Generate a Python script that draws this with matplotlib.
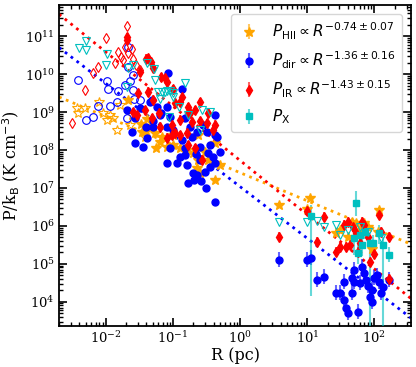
import numpy as np
import matplotlib
matplotlib.use("Agg")
import matplotlib.pyplot as plt
from matplotlib.ticker import LogLocator, NullFormatter

plt.rcParams['font.family'] = ['DejaVu Serif']

# --- data (log10 R [pc], log10 P/kB [K cm^-3]) ---

# HII pressure (orange stars)
hii_open_logR = [-2.10, -2.43, -2.31, -2.42, -2.04, -1.94, -1.84, -1.90, -1.79, -1.42, -1.64, -1.99, -1.61]
hii_open_logP = [9.26, 9.11, 9.11, 8.97, 8.97, 8.92, 8.53, 8.84, 9.18, 8.34, 8.66, 8.79, 8.92]
hii_logR = [-1.42, -1.34, -1.27, -1.19, -1.09, -1.00, -0.90, -0.80, -0.70, -0.63, -0.48, -0.37,
            -0.30, -0.64, -0.37, -1.25, -1.00, -0.52, -1.48, -1.16, -1.46, -0.63, -0.37, -0.60,
            -1.39, -1.67,
            0.58, 1.00, 1.04, 1.42, 1.48, 1.67, 1.73, 1.84, 1.96, 2.06, 2.05, 1.91, 1.60, 1.78]
hii_logP = [8.47, 8.62, 8.45, 8.21, 8.08, 8.13, 8.05, 8.00, 7.92, 7.74, 7.74, 7.66,
            7.61, 7.53, 7.21, 8.05, 8.40, 7.95, 8.68, 8.34, 8.47, 8.40, 8.18, 7.39,
            8.82, 9.32,
            6.55, 6.45, 6.74, 5.82, 5.89, 6.11, 6.08, 6.08, 5.39, 6.42, 5.84, 5.97, 5.71, 5.89]
hii_err = 0.08

# direct pressure (blue circles)
dir_open_logR = [-1.67, -2.42, -1.99, -1.97, -1.82, -1.72, -1.64, -1.60, -1.58, -1.49, -2.12,
                 -1.94, -1.84, -2.20, -2.30, -1.69, -1.67, -1.60]
dir_open_logP = [10.71, 9.84, 9.82, 9.60, 9.55, 9.71, 9.82, 9.58, 9.34, 9.32, 9.16,
                 9.16, 9.27, 8.87, 8.79, 8.84, 10.18, 9.97]
dir_logR = [-1.07, -0.87, -1.69, -1.49, -1.31, -1.24, -1.61, -1.57, -1.39, -1.09, -0.79, -0.70,
            -0.60, -0.72, -1.04, -1.30, -0.49, -0.40, -0.78, -0.58, -0.51, -0.37, -1.34, -1.57,
            -1.09, -1.04, -1.30, -1.00, -0.75, -0.64, -0.37, -0.55, -1.18, -0.82, -1.19, -0.87,
            -0.90, -0.82, -0.60, -0.48, -0.34, -0.45, -0.37, -0.94, -0.52, -0.64, -0.69, -1.45,
            -0.37, -1.40, -1.09, -0.45, -0.30, -0.82, -0.66,
            0.58, 1.00, 1.06, 1.15, 1.25, 1.42, 1.48, 1.54, 1.58, 1.60, 1.66, 1.69, 1.70, 1.75,
            1.79, 1.82, 1.84, 1.88, 1.91, 1.94, 1.96, 1.99, 2.07, 2.09, 2.12, 2.22, 1.55, 1.66,
            1.96, 2.03]
dir_logP = [10.03, 9.60, 9.05, 9.10, 9.32, 9.13, 8.47, 8.18, 8.32, 7.66, 7.61, 7.39,
            8.08, 8.34, 8.05, 8.76, 8.47, 7.82, 7.13, 7.18, 7.00, 6.63, 9.26, 8.84,
            9.13, 8.87, 8.61, 8.53, 8.61, 8.47, 8.39, 8.66, 8.97, 8.84, 8.92, 8.26,
            7.82, 7.87, 7.74, 7.92, 8.34, 8.13, 7.66, 7.66, 7.42, 7.34, 7.20, 8.08,
            8.92, 8.61, 8.61, 7.55, 7.95, 8.05, 7.90,
            5.11, 5.11, 5.16, 4.58, 4.66, 4.24, 4.24, 4.53, 3.84, 3.71, 4.24, 4.84, 4.53, 3.74,
            4.50, 4.92, 4.76, 4.58, 4.42, 4.13, 4.00, 4.63, 4.53, 4.24, 4.39, 4.58, 4.05, 4.63,
            4.32, 4.70]
dir_err = [0.08] * 55 + [0.2] * 30

# IR pressure (red thin diamonds)
ir_open_logR = [-1.69, -2.00, -1.82, -1.72, -1.67, -1.61, -1.75, -1.60, -2.12, -2.19, -2.31,
                -2.50, -1.49, -1.87, -1.55, -1.78]
ir_open_logP = [11.26, 10.95, 10.58, 10.71, 10.55, 10.66, 10.37, 10.39, 10.18, 10.03, 9.58,
                8.71, 10.10, 10.29, 10.25, 10.45]
ir_logR = [-1.69, -1.69, -1.37, -1.33, -1.30, -1.12, -1.09, -1.52, -1.30, -0.97, -0.87, -0.78,
           -0.75, -0.67, -0.60, -0.49, -0.40, -1.60, -1.21, -0.90, -1.01, -1.49, -1.18, -1.37,
           -1.42, -1.31, -0.60, -0.48, -0.90, -0.78, -1.54, -0.97, -1.19, -0.79, -0.72, -0.37,
           -1.01, -0.90, -0.78, -0.67, -1.09, -0.57, -1.40, -1.00,
           0.58, 1.00, 1.25, 1.15, 1.42, 1.49, 1.55, 1.57, 1.64, 1.60, 1.72, 1.75, 1.79, 1.84,
           1.90, 1.94, 2.00, 2.07, 2.09, 2.22, 2.22, 1.82, 1.68]
ir_logP = [10.97, 10.89, 10.42, 10.32, 10.16, 9.89, 9.79, 9.50, 9.32, 9.24, 9.39, 9.13,
           8.97, 9.05, 8.76, 8.71, 8.53, 9.00, 8.97, 8.79, 8.66, 10.05, 9.92, 9.53,
           9.05, 8.84, 9.26, 8.97, 9.26, 8.97, 8.92, 8.45, 8.61, 8.45, 8.74, 8.66,
           8.39, 8.39, 8.13, 8.05, 8.32, 7.74, 10.40, 9.60,
           5.71, 6.40, 6.24, 5.58, 5.32, 5.45, 6.03, 5.45, 5.50, 6.11, 5.82, 5.32, 5.55, 6.03,
           5.71, 5.05, 5.26, 6.29, 5.84, 5.71, 4.61, 6.11, 5.97]
ir_err = 0.12

# X-ray pressure (cyan)
x_open_logR = [-2.30, -2.40, -2.30, -1.99, -2.00, -1.67, -1.60, -1.69, -1.39, -1.28, -1.27,
               -1.22, -1.19, -1.12, -1.04, -1.00, -1.06, -0.91, -0.82, -0.78, -0.57, -0.60,
               -1.00, -0.45, -1.17, -1.09,
               0.58, 0.99, 1.15, 1.25, 1.42, 1.49, 1.60, 1.79, 1.90, 2.09]
x_open_logP = [10.87, 10.68, 10.63, 10.53, 10.24, 10.16, 10.24, 9.66, 10.29, 10.13, 9.84,
               9.53, 9.34, 9.53, 9.55, 9.50, 8.87, 9.13, 9.76, 8.92, 9.05, 8.53,
               9.39, 9.00, 9.53, 9.55,
               6.11, 6.11, 6.13, 5.97, 6.03, 5.76, 5.89, 5.97, 5.84, 5.68]
x_logR = [1.06, 1.72, 1.69, 1.76, 1.79, 1.81, 1.86, 1.94, 1.98, 2.06, 2.12, 2.22]
x_logP = [6.26, 6.61, 5.68, 5.29, 5.76, 5.50, 5.84, 5.55, 5.55, 5.82, 5.50, 5.24]
x_err_lo = [2.1, 0.35, 0.45, 0.30, 0.25, 0.30, 0.20, 2.5, 0.30, 0.30, 2.5, 0.20]
x_err_hi = [0.30, 0.30, 0.30, 0.30, 0.20, 0.25, 0.20, 0.20, 0.20, 0.20, 0.20, 0.20]

# power-law fits: log P = a + slope * log R
fit_slopes = {'HII': -0.74, 'dir': -1.36, 'IR': -1.43}
fit_norms = {'HII': 7.40, 'dir': 7.03, 'IR': 7.72}
labels = {
    'HII': r'$P_{\rm HII} \propto R^{-0.74\pm0.07}$',
    'dir': r'$P_{\rm dir} \propto R^{-1.36\pm0.16}$',
    'IR': r'$P_{\rm IR} \propto R^{-1.43\pm0.15}$',
    'X': r'$P_{\rm X}$',
}
colors = {'HII': 'orange', 'dir': 'blue', 'IR': 'red', 'X': 'c'}

xtick_vals = [1e-2, 1e-1, 1e0, 1e1, 1e2]
ytick_vals = [1e4, 1e5, 1e6, 1e7, 1e8, 1e9, 1e10, 1e11]


def yerr_from_dex(logp, lo, hi):
    p = 10 ** np.asarray(logp, dtype=float)
    lo = np.broadcast_to(np.asarray(lo, dtype=float), p.shape)
    hi = np.broadcast_to(np.asarray(hi, dtype=float), p.shape)
    return np.vstack([p - p * 10 ** (-lo), p * 10 ** hi - p])


def errpts(ax, logr, logp, lo, hi, fmt, color, ms, label):
    cont = ax.errorbar(10 ** np.asarray(logr), 10 ** np.asarray(logp),
                       yerr=yerr_from_dex(logp, lo, hi), fmt=fmt, color=color,
                       ms=ms, elinewidth=1.5, capsize=0, label=label, zorder=3)
    for c in cont[2]:
        c.set_alpha(0.6)
    return cont


fig = plt.figure(figsize=(4.16, 3.67), dpi=100)
ax = fig.add_axes([0.142, 0.112, 0.846, 0.874])
ax.set_xscale('log')
ax.set_yscale('log')

# fit lines
rr = np.array([0.002, 350.0])
for key in ['HII', 'dir', 'IR']:
    ax.plot(rr, 10 ** (fit_norms[key] + fit_slopes[key] * np.log10(rr)), ':',
            color=colors[key], lw=2, zorder=2)

# open symbols (no error bars)
ax.plot(10 ** np.array(hii_open_logR), 10 ** np.array(hii_open_logP), '*', mfc='none',
        mec='orange', ms=7, mew=0.8, ls='none', zorder=3)
ax.plot(10 ** np.array(dir_open_logR), 10 ** np.array(dir_open_logP), 'o', mfc='none',
        mec='blue', ms=5.5, mew=0.8, ls='none', zorder=3)
ax.plot(10 ** np.array(ir_open_logR), 10 ** np.array(ir_open_logP), 'd', mfc='none',
        mec='red', ms=5.5, mew=0.8, ls='none', zorder=3)

h_hii = errpts(ax, hii_logR, hii_logP, hii_err, hii_err, '*', 'orange', 7, labels['HII'])
h_dir = errpts(ax, dir_logR, dir_logP, dir_err, dir_err, 'o', 'blue', 5, labels['dir'])
h_ir = errpts(ax, ir_logR, ir_logP, ir_err, ir_err, 'd', 'red', 5, labels['IR'])
h_x = errpts(ax, x_logR, x_logP, x_err_lo, x_err_hi, 's', 'c', 4.5, labels['X'])

ax.plot(10 ** np.array(x_open_logR), 10 ** np.array(x_open_logP), 'v', mfc='none',
        mec='c', ms=6, mew=0.8, ls='none', zorder=4)

ax.set_xlim(0.002, 350)
ax.set_ylim(2.3e3, 6.6e11)
ax.set_xticks(xtick_vals)
ax.set_yticks(ytick_vals)
ax.yaxis.set_minor_locator(LogLocator(base=10, subs=np.arange(2, 10), numticks=20))
ax.xaxis.set_minor_locator(LogLocator(base=10, subs=np.arange(2, 10), numticks=20))
ax.xaxis.set_minor_formatter(NullFormatter())
ax.yaxis.set_minor_formatter(NullFormatter())

ax.tick_params(which='both', direction='in', top=True, right=True, labelsize=9.5)
ax.tick_params(which='major', length=6, width=1.2, pad=3)
ax.tick_params(which='minor', length=3, width=1)
for s in ax.spines.values():
    s.set_linewidth(1.3)

ax.set_xlabel('R (pc)', fontsize=11.5, labelpad=1)
ax.set_ylabel(r'P/k$_{\rm B}$ (K cm$^{-3}$)', fontsize=11.5, labelpad=2)

ax.legend(handles=[h_hii, h_dir, h_ir, h_x], loc='upper right', fontsize=11,
          handlelength=1.5, borderaxespad=0.6)

fig.savefig('out.png', dpi=100)
